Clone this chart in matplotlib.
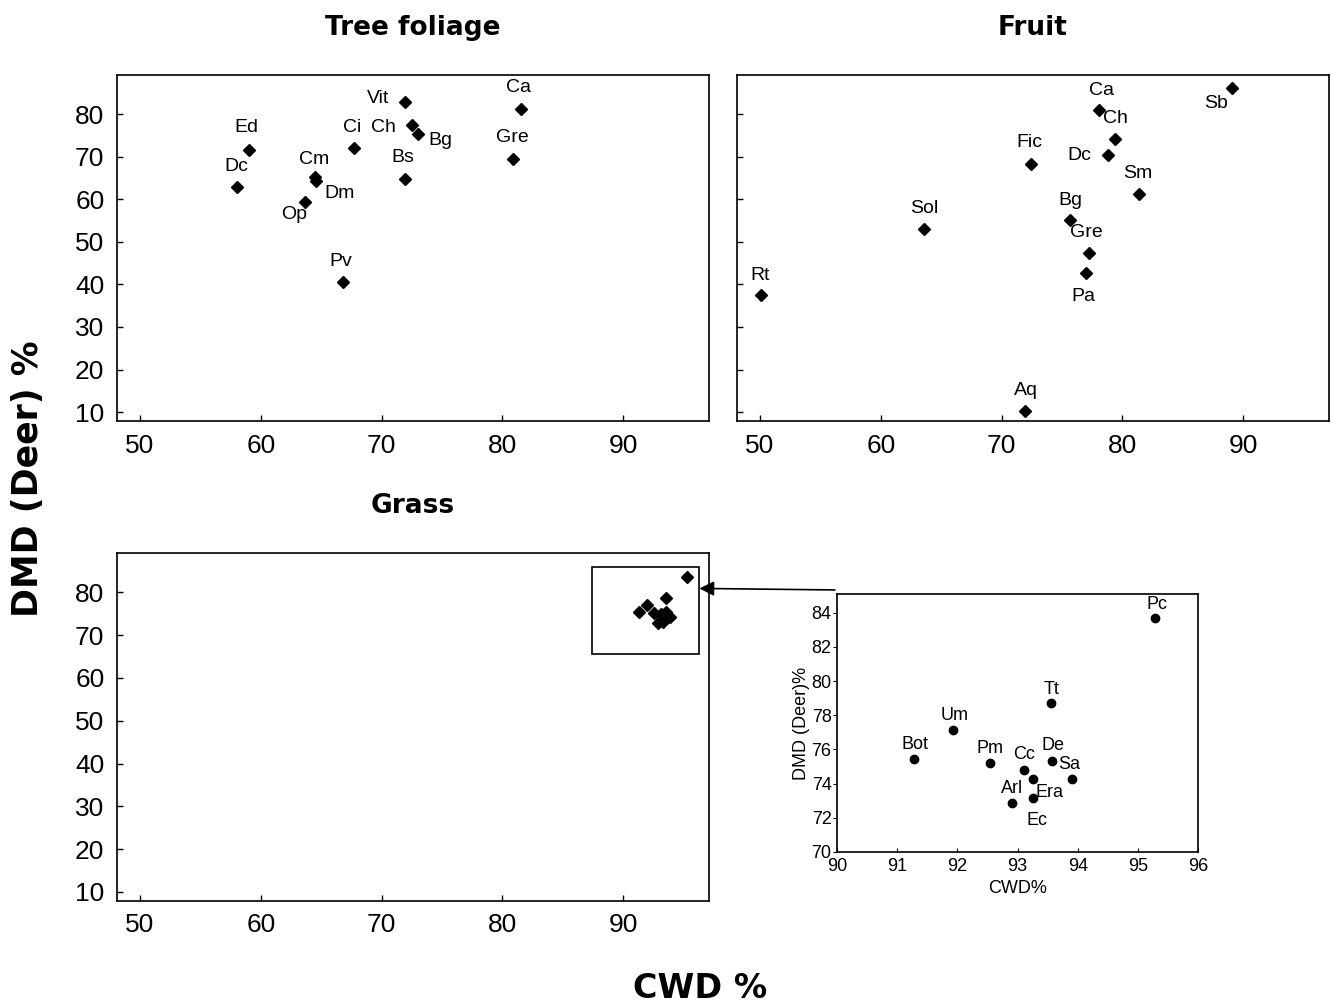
import matplotlib
matplotlib.use('Agg')
import matplotlib.pyplot as plt
from matplotlib.patches import Rectangle, ConnectionPatch

plt.rcParams['font.family'] = ['Liberation Sans', 'DejaVu Sans']

# Tree foliage
foliage_names = ['Vit', 'Ca', 'Ch', 'Bg', 'Ed', 'Ci', 'Gre', 'Dc', 'Cm', 'Dm', 'Bs', 'Op', 'Pv']
foliage_cwd = [71.9, 81.5, 72.5, 73.0, 59.0, 67.7, 80.9, 58.0, 64.5, 64.6, 71.9, 63.7, 66.8]
foliage_dmd = [82.9, 81.3, 77.4, 75.4, 71.6, 72.0, 69.4, 62.8, 65.3, 64.2, 64.8, 59.3, 40.6]

# Fruit
fruit_names = ['Sb', 'Ca', 'Ch', 'Dc', 'Fic', 'Sm', 'Sol', 'Bg', 'Gre', 'Pa', 'Rt', 'Aq']
fruit_cwd = [89.1, 78.1, 79.4, 78.8, 72.4, 81.4, 63.6, 75.7, 77.2, 77.0, 50.1, 71.9]
fruit_dmd = [86.1, 80.9, 74.1, 70.5, 68.4, 61.2, 53.0, 55.1, 47.3, 42.7, 37.5, 10.3]

# Grass
grass_names = ['Pc', 'Tt', 'Um', 'Bot', 'Pm', 'Cc', 'De', 'Sa', 'Era', 'Ec', 'Arl']
grass_cwd = [95.29, 93.55, 91.93, 91.28, 92.55, 93.10, 93.57, 93.91, 93.25, 93.25, 92.91]
grass_dmd = [83.67, 78.69, 77.13, 75.43, 75.21, 74.82, 75.33, 74.30, 74.30, 73.13, 72.87]

x_ticks = [50, 60, 70, 80, 90]
y_ticks = [10, 20, 30, 40, 50, 60, 70, 80]
inset_x_ticks = [90, 91, 92, 93, 94, 95, 96]
inset_y_ticks = [70, 72, 74, 76, 78, 80, 82, 84]

# label offsets in pixels (layout only)
foliage_offsets = {'Vit': (-26, 3), 'Ca': (-2, 21), 'Ch': (-28, -2), 'Bg': (23, -7),
                   'Ed': (-2, 22), 'Ci': (-2, 21), 'Gre': (-1, 22), 'Dc': (0, 21),
                   'Cm': (-1, 17), 'Dm': (23, -12), 'Bs': (-2, 21), 'Op': (-11, -12),
                   'Pv': (-2, 20)}
fruit_offsets = {'Sb': (-16, -15), 'Ca': (2, 20), 'Ch': (0, 21), 'Dc': (-29, -1),
                 'Fic': (-1, 21), 'Sm': (-2, 21), 'Sol': (0, 21), 'Bg': (0, 20),
                 'Gre': (-2, 21), 'Pa': (-3, -24), 'Rt': (-1, 20), 'Aq': (1, 20)}
grass_offsets = {'Pc': (2, 14), 'Tt': (1, 14), 'Um': (1, 15), 'Bot': (1, 15),
                 'Pm': (0, 14), 'Cc': (0, 15), 'De': (1, 15), 'Sa': (-3, 14),
                 'Era': (17, -14), 'Ec': (4, -22), 'Arl': (0, 14)}


def style_main(ax, show_ylabels=True):
    ax.set_xlim(48.1, 97.1)
    ax.set_ylim(7.9, 89.2)
    ax.set_xticks(x_ticks)
    ax.set_yticks(y_ticks)
    ax.tick_params(direction='in', length=4, width=1, labelsize=19, pad=9,
                   labelleft=show_ylabels)
    for sp in ax.spines.values():
        sp.set_linewidth(1.2)


def draw_points(ax, names, xs, ys, offsets, ms, marker, fs):
    ax.plot(xs, ys, linestyle='none', marker=marker, color='k', markersize=ms)
    for n, x, y in zip(names, xs, ys):
        ax.annotate(n, (x, y), xytext=offsets[n], textcoords='offset pixels',
                    ha='center', va='center', fontsize=fs)


fig = plt.figure(figsize=(13.31, 10.06), dpi=100)

ax1 = fig.add_axes([0.0879, 0.5815, 0.4448, 0.3439])
ax2 = fig.add_axes([0.5537, 0.5815, 0.4448, 0.3439])
ax3 = fig.add_axes([0.0879, 0.1044, 0.4448, 0.3460])
ax4 = fig.add_axes([0.6289, 0.1531, 0.2712, 0.2565])

style_main(ax1)
style_main(ax2, show_ylabels=False)
style_main(ax3)

draw_points(ax1, foliage_names, foliage_cwd, foliage_dmd, foliage_offsets, 6.5, 'D', 14)
draw_points(ax2, fruit_names, fruit_cwd, fruit_dmd, fruit_offsets, 6.5, 'D', 14)
ax3.plot(grass_cwd, grass_dmd, linestyle='none', marker='D', color='k', markersize=6.5)

title_kw = dict(fontsize=19, fontweight='bold', family='DejaVu Sans', pad=29)
ax1.set_title('Tree foliage', **title_kw)
ax2.set_title('Fruit', **title_kw)
ax3.set_title('Grass', **title_kw)

# zoom box on grass panel
ax3.add_patch(Rectangle((87.4, 65.6), 8.9, 20.3, fill=False, edgecolor='k', lw=1.2))

# inset with grass detail
draw_points(ax4, grass_names, grass_cwd, grass_dmd, grass_offsets, 6, 'o', 13)
ax4.set_xlim(90, 96)
ax4.set_ylim(70, 85.1)
ax4.set_xticks(inset_x_ticks)
ax4.set_yticks(inset_y_ticks)
ax4.tick_params(axis='x', direction='in', length=3, labelsize=13, pad=4)
ax4.tick_params(axis='y', direction='out', length=3, labelsize=13, pad=1)
ax4.set_xlabel('CWD%', fontsize=13, labelpad=4)
ax4.set_ylabel('DMD (Deer)%', fontsize=13, labelpad=1)
for sp in ax4.spines.values():
    sp.set_linewidth(1.2)

con = ConnectionPatch(xyA=(-0.006, 1.0155), coordsA=ax4.transAxes,
                      xyB=(96.3, 80.9), coordsB=ax3.transData,
                      arrowstyle='-|>', mutation_scale=22, lw=1.2, color='k')
fig.add_artist(con)

fig.text(0.021, 0.524, 'DMD (Deer) %', rotation=90, ha='center', va='center',
         fontsize=25, fontweight='bold', family='DejaVu Sans')
fig.text(0.526, 0.017, 'CWD %', ha='center', va='center',
         fontsize=24, fontweight='bold', family='DejaVu Sans')

fig.savefig('out.png', dpi=100)
